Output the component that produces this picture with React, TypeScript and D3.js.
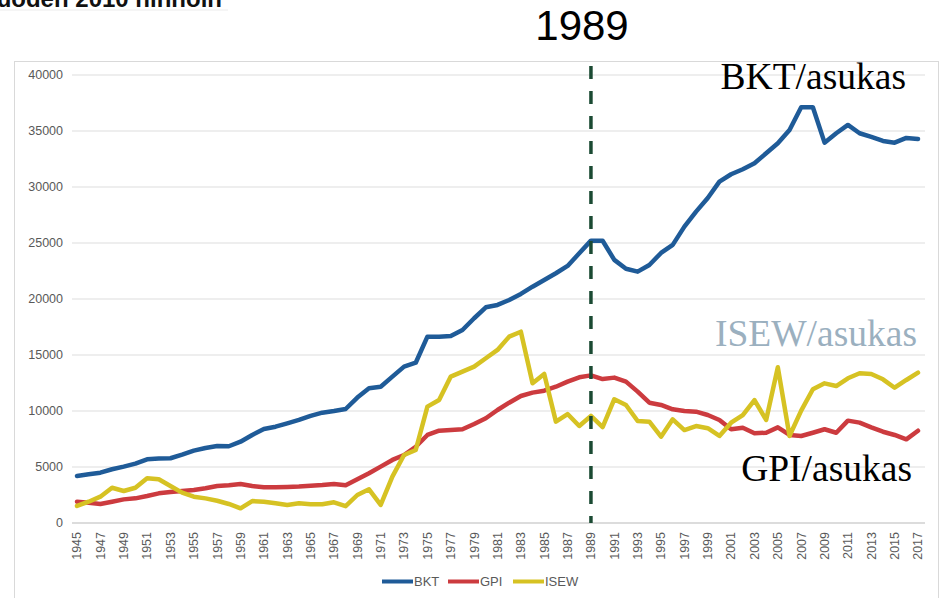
import React from "react";
import * as d3 from "d3";

const years: number[] = Array.from({ length: 73 }, (_, i) => 1945 + i);

const bkt: number[] = [
  4200, 4350, 4490, 4800, 5030, 5300, 5690, 5750, 5780, 6100,
  6460, 6700, 6880, 6850, 7260, 7860, 8390, 8600, 8900, 9200,
  9560, 9850, 10000, 10180, 11200, 12030, 12170, 13070, 13960, 14310,
  16640, 16640, 16700, 17230, 18280, 19260, 19470, 19910, 20450, 21100,
  21700, 22300, 22950, 24080, 25210, 25200, 23490, 22700, 22440, 23040,
  24110, 24830, 26460, 27800, 29020, 30480, 31140, 31590, 32120, 33010,
  33900, 35090, 37120, 37120, 33960, 34800, 35540, 34800, 34470, 34110,
  33960, 34380, 34290,
];

const gpi: number[] = [
  1900, 1810, 1700, 1900, 2110, 2200, 2410, 2650, 2770, 2860,
  2950, 3100, 3300, 3370, 3480, 3300, 3190, 3190, 3220, 3250,
  3330, 3390, 3480, 3370, 3900, 4440, 5030, 5630, 6070, 6810,
  7860, 8240, 8300, 8370, 8840, 9350, 10090, 10740, 11340, 11640,
  11810, 12170, 12620, 13010, 13180, 12850, 12980, 12620, 11730, 10740,
  10540, 10150, 10000, 9940, 9640, 9200, 8370, 8510, 8010, 8060,
  8540, 7860, 7770, 8060, 8370, 8060, 9140, 8960, 8540, 8150,
  7860, 7470, 8240,
];

const isew: number[] = [
  1520, 1900, 2350, 3150, 2860, 3150, 3990, 3900, 3300, 2710,
  2350, 2200, 1990, 1700, 1310, 1960, 1900, 1760, 1610, 1760,
  1670, 1670, 1850, 1500, 2500, 3010, 1610, 4140, 6070, 6520,
  10390, 10980, 13070, 13510, 13960, 14710, 15450, 16640, 17080, 12470,
  13310, 9050, 9730, 8660, 9560, 8570, 11050, 10540, 9110, 9050,
  7710, 9260, 8300, 8660, 8460, 7770, 8960, 9640, 10980, 9200,
  13900, 7770, 10030, 11940, 12470, 12230, 12920, 13370, 13310, 12830,
  12080, 12770, 13420,
];

const yTicks: number[] = [0, 5000, 10000, 15000, 20000, 25000, 30000, 35000, 40000];
const xTickYears: number[] = years.filter((y) => (y - 1945) % 2 === 0);

const seriesNames = ["BKT", "GPI", "ISEW"];
const seriesData = [bkt, gpi, isew];
const seriesColors = ["#1f5b98", "#cc3b3f", "#d6c223"];
const markerYear = 1989;

export default function App() {
  const x = d3.scaleLinear().domain([1945, 2017]).range([77, 918]);
  const y = d3.scaleLinear().domain([0, 40000]).range([523, 75]);
  const line = d3
    .line<number>()
    .x((_, i) => x(years[i]))
    .y((d) => y(d));

  const legendX = [382, 448, 513];
  const font = "'Liberation Sans', Arial, sans-serif";
  const serif = "'Liberation Serif', 'Times New Roman', serif";

  return (
    <svg
      width={942}
      height={598}
      style={{ position: "absolute", left: 0, top: 0, background: "#fff" }}
    >
      <rect x={0} y={0} width={942} height={598} fill="#fff" />
      {/* cut-off title (cropped at the top edge, as in the reference) */}
      <text
        x={222}
        y={7}
        textAnchor="end"
        fontFamily={font}
        fontWeight="bold"
        fontSize={24}
        fill="#111"
      >
        Kehitys Suomessa vuoden 2010 hinnoin
      </text>
      <line x1={0} x2={228} y1={10} y2={10} stroke="#ececec" strokeWidth={1} />

      {/* chart frame */}
      <rect x={14.5} y={61.5} width={924} height={560} fill="#fff" stroke="#d9d9d9" strokeWidth={1} />

      {/* grid */}
      {yTicks.map((t) => (
        <g key={t}>
          <line x1={72} x2={925} y1={y(t)} y2={y(t)} stroke={t === 0 ? "#d0d0d0" : "#dedede"} strokeWidth={t === 0 ? 1.5 : 1.2} />
          <text
            x={63}
            y={y(t)}
            dy="0.35em"
            textAnchor="end"
            fontFamily={font}
            fontSize={12.5}
            fill="#595959"
          >
            {t}
          </text>
        </g>
      ))}

      {/* x tick labels */}
      {xTickYears.map((yr) => (
        <text
          key={yr}
          transform={`translate(${x(yr)},${532}) rotate(-90)`}
          dy="0.35em"
          textAnchor="end"
          fontFamily={font}
          fontSize={12.5}
          fill="#595959"
        >
          {yr}
        </text>
      ))}

      {/* series */}
      {seriesData.map((s, i) => (
        <path
          key={seriesNames[i]}
          d={line(s) || ""}
          fill="none"
          stroke={seriesColors[i]}
          strokeWidth={4.5}
          strokeLinejoin="round"
          strokeLinecap="round"
        />
      ))}

      {/* 1989 marker */}
      <line
        x1={x(markerYear)}
        x2={x(markerYear)}
        y1={66}
        y2={523}
        stroke="#1b4a33"
        strokeWidth={3.5}
        strokeDasharray="13 12"
      />
      <text x={582} y={40} textAnchor="middle" fontFamily={font} fontSize={42} fill="#000">
        1989
      </text>

      {/* annotations */}
      <text x={906} y={89} textAnchor="end" fontFamily={serif} fontSize={37.5} fill="#000">
        BKT/asukas
      </text>
      <text x={917} y={346} textAnchor="end" fontFamily={serif} fontSize={37.5} fill="#9bb0bf">
        ISEW/asukas
      </text>
      <text x={912} y={481} textAnchor="end" fontFamily={serif} fontSize={37.5} fill="#000">
        GPI/asukas
      </text>

      {/* legend */}
      {seriesNames.map((n, i) => (
        <g key={n}>
          <line
            x1={legendX[i]}
            x2={legendX[i] + 31}
            y1={581.5}
            y2={581.5}
            stroke={seriesColors[i]}
            strokeWidth={4}
          />
          <text
            x={legendX[i] + 32}
            y={581.5}
            dy="0.35em"
            fontFamily={font}
            fontSize={13}
            fill="#595959"
          >
            {n}
          </text>
        </g>
      ))}
    </svg>
  );
}
